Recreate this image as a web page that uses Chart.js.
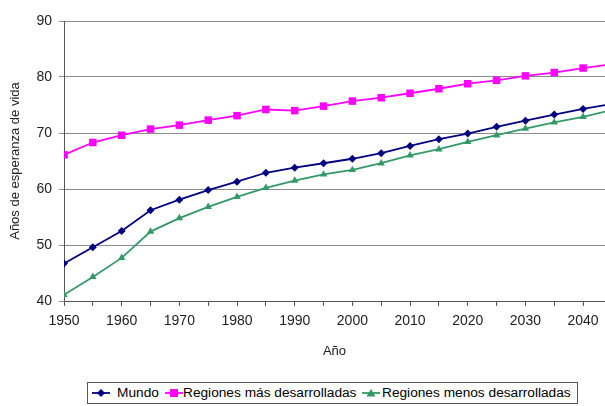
<!DOCTYPE html>
<html>
<head>
<meta charset="utf-8">
<script src="https://cdn.jsdelivr.net/npm/chart.js@4/dist/chart.umd.min.js"></script>
<style>
  html, body { margin: 0; padding: 0; background: #fff; }
  #wrap { position: relative; width: 605px; height: 406px; }
  canvas { display: block; }
  #legend {
    position: absolute; left: 87px; top: 382px; width: 489px; height: 20px;
    border: 1px solid #555; background: #fff;
    font-family: "Liberation Sans", Arial, sans-serif; font-size: 13.7px; color: #000;
  }
  #legend .item { position: absolute; top: 0; height: 20px; line-height: 20px; white-space: nowrap; }
  #legend svg { position: absolute; top: 5px; }
</style>
</head>
<body>
<div id="wrap">
  <canvas id="chart" width="605" height="406"></canvas>
  <div id="legend"></div>
</div>
<script>
// Esperanza de vida al nacer (años), por quinquenio
const years = [1950, 1955, 1960, 1965, 1970, 1975, 1980, 1985, 1990, 1995, 2000,
               2005, 2010, 2015, 2020, 2025, 2030, 2035, 2040, 2045];
const mundo = [46.7, 49.6, 52.5, 56.2, 58.1, 59.8, 61.3, 62.9, 63.8, 64.6, 65.4,
               66.4, 67.7, 68.9, 69.9, 71.1, 72.2, 73.3, 74.3, 75.2];
const masDesarrolladas = [66.1, 68.3, 69.6, 70.7, 71.4, 72.3, 73.1, 74.2, 74.0, 74.8, 75.7,
                          76.3, 77.1, 77.9, 78.8, 79.4, 80.2, 80.8, 81.6, 82.3];
const menosDesarrolladas = [41.1, 44.3, 47.7, 52.4, 54.8, 56.8, 58.6, 60.2, 61.5, 62.6, 63.4,
                            64.6, 66.0, 67.1, 68.4, 69.6, 70.8, 71.9, 72.9, 74.1];
const seriesNames = ['Mundo', 'Regiones más desarrolladas', 'Regiones menos desarrolladas'];
const yTicks = [40, 50, 60, 70, 80, 90];
const xAxisTitle = 'Año';
const yAxisTitle = 'Años de esperanza de vida';

const FONT = '"Liberation Sans", Arial, sans-serif';
const colors = ['#000080', '#FF00FF', '#339966'];
const pointStyles = ['rectRot', 'rect', 'triangle'];
const pointRadii = [4, 5.3, 4.3];

function toXY(vals) { return years.map((y, i) => ({ x: y, y: vals[i] })); }

const datasets = [mundo, masDesarrolladas, menosDesarrolladas].map((vals, i) => ({
  label: seriesNames[i],
  data: toXY(vals),
  borderColor: colors[i],
  backgroundColor: colors[i],
  borderWidth: 1.8,
  pointStyle: pointStyles[i],
  pointRadius: pointRadii[i],
  pointBorderWidth: 0,
  tension: 0
}));

new Chart(document.getElementById('chart'), {
  type: 'line',
  data: { datasets },
  options: {
    responsive: false,
    animation: false,
    events: [],
    layout: { autoPadding: false, padding: { top: 21, right: 0, bottom: 0, left: 0 } },
    plugins: { legend: { display: false }, tooltip: { enabled: false } },
    scales: {
      x: {
        type: 'linear',
        min: 1950,
        max: 2043.8,
        // the plot runs to the right edge of the canvas
        afterFit: s => { s.height = 105; s.paddingRight = 0; s.paddingLeft = 0; },
        border: { display: true, color: '#555', width: 1 },
        grid: { drawOnChartArea: false, drawTicks: true, tickLength: 5, color: '#555' },
        ticks: {
          stepSize: 5,
          includeBounds: false,
          autoSkip: false,
          maxRotation: 0,
          padding: 7,
          color: '#222',
          font: { family: FONT, size: 14 },
          callback: v => (v % 10 === 0 ? String(v) : '')
        },
        title: {
          display: true,
          text: xAxisTitle,
          color: '#222',
          font: { family: FONT, size: 13 },
          padding: { top: 0, bottom: 47 }
        }
      },
      y: {
        min: yTicks[0],
        max: yTicks[yTicks.length - 1],
        afterFit: s => { s.width = 64; },
        afterBuildTicks: s => { s.ticks = yTicks.map(v => ({ value: v })); },
        border: { display: true, color: '#555', width: 1 },
        grid: { color: '#8c8c8c', lineWidth: 1, drawTicks: true, tickLength: 5 },
        ticks: {
          padding: 7,
          color: '#222',
          font: { family: FONT, size: 14 }
        },
        title: {
          display: true,
          text: yAxisTitle,
          color: '#222',
          font: { family: FONT, size: 13 },
          padding: { top: 8, bottom: 0 }
        }
      }
    }
  }
});

// Leyenda con línea y marcador de cada serie
const markerSvg = [
  '<polygon points="9,1 13,5 9,9 5,5" />',
  '<rect x="5" y="1" width="8" height="8" />',
  '<polygon points="9,1 13.5,8.5 4.5,8.5" />'
];
const legendPos = [{ icon: 92, text: 117 }, { icon: 165, text: 183 }, { icon: 362, text: 382 }];
const legend = document.getElementById('legend');
seriesNames.forEach((name, i) => {
  const icon = document.createElement('div');
  icon.className = 'item';
  icon.style.left = (legendPos[i].icon - 88) + 'px';
  icon.innerHTML = '<svg width="18" height="10" viewBox="0 0 18 10">' +
    '<line x1="0" y1="5" x2="18" y2="5" stroke="' + colors[i] + '" stroke-width="1.8"/>' +
    '<g fill="' + colors[i] + '">' + markerSvg[i] + '</g></svg>';
  legend.appendChild(icon);
  const label = document.createElement('div');
  label.className = 'item';
  label.style.left = (legendPos[i].text - 88) + 'px';
  label.textContent = name;
  legend.appendChild(label);
});
</script>
</body>
</html>
